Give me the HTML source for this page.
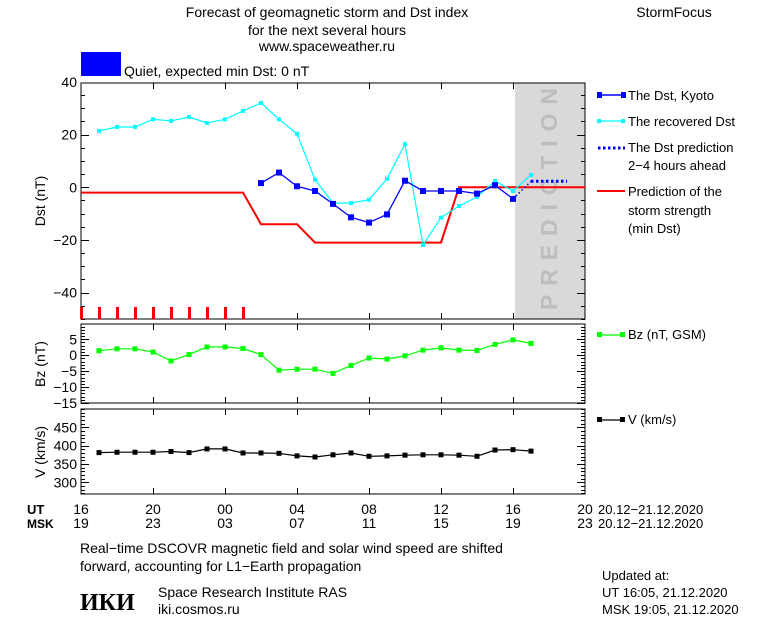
<!DOCTYPE html>
<html><head><meta charset="utf-8"><style>
html,body{margin:0;padding:0;background:#fff;}
svg{display:block;font-family:"Liberation Sans",sans-serif;}
</style></head><body>
<svg id="chart" width="760" height="620" viewBox="0 0 760 620">
<g font-size="14" fill="#000" text-anchor="middle">
<text x="327" y="17">Forecast of geomagnetic storm and Dst index</text>
<text x="327" y="35">for the next several hours</text>
<text x="327" y="51">www.spaceweather.ru</text>
</g>
<text x="674" y="17" font-size="14" text-anchor="middle">StormFocus</text>
<rect x="81" y="52" width="40" height="24" fill="#0000ff"/>
<text x="124" y="76" font-size="14">Quiet, expected min Dst: 0 nT</text>

<rect x="515" y="83" width="70" height="236" fill="#d9d9d9"/>
<text transform="translate(557,199) rotate(-90)" font-size="23" fill="#bdbdbd" text-anchor="middle" textLength="222" lengthAdjust="spacing" font-weight="bold">PREDICTION</text>

<g id="axes" stroke="#000" stroke-width="1" fill="none"></g>
<g id="marks"></g>
<g id="labels" font-size="14" fill="#000"></g>

<g font-size="13" fill="#000">
<g><line x1="599" y1="95" x2="623" y2="95" stroke="#0000ff" stroke-width="1.5"/><rect x="597" y="92" width="5" height="6" fill="#0000ff"/><rect x="621" y="92" width="5" height="6" fill="#0000ff"/><text x="628" y="100">The Dst, Kyoto</text></g>
<g><line x1="599" y1="121" x2="623" y2="121" stroke="#00ffff" stroke-width="1.2"/><rect x="597" y="119" width="4" height="4" fill="#00ffff"/><rect x="621" y="119" width="4" height="4" fill="#00ffff"/><text x="628" y="126">The recovered Dst</text></g>
<g><line x1="598" y1="148" x2="625" y2="148" stroke="#0000ff" stroke-width="3" stroke-dasharray="2.5,2.5"/><text x="628" y="152">The Dst prediction</text><text x="628" y="170">2−4 hours ahead</text></g>
<g><line x1="597" y1="191" x2="625" y2="191" stroke="#ff0000" stroke-width="2"/><text x="628" y="196">Prediction of the</text><text x="628" y="215">storm strength</text><text x="628" y="233">(min Dst)</text></g>
<g><line x1="597" y1="335" x2="625" y2="335" stroke="#00ff00" stroke-width="1.2"/><rect x="597" y="332" width="5" height="5" fill="#00ff00"/><rect x="620" y="332" width="5" height="5" fill="#00ff00"/><text x="628" y="339">Bz (nT, GSM)</text></g>
<g><line x1="597" y1="420" x2="625" y2="420" stroke="#000" stroke-width="1.2"/><rect x="597" y="417" width="5" height="5" fill="#000"/><rect x="620" y="417" width="5" height="5" fill="#000"/><text x="628" y="424">V (km/s)</text></g>
</g>

<g font-size="13" fill="#000">
<text x="598" y="514">20.12−21.12.2020</text>
<text x="598" y="528">20.12−21.12.2020</text>
<text x="27" y="514" font-weight="bold">UT</text>
<text x="27" y="528" font-weight="bold" font-size="12">MSK</text>
<text x="80" y="553" font-size="14">Real−time DSCOVR magnetic field and solar wind speed are shifted</text>
<text x="80" y="571" font-size="14">forward, accounting for L1−Earth propagation</text>
<text x="80" y="610" font-size="24" font-weight="bold" font-family="Liberation Serif,serif">ИКИ</text>
<text x="158" y="597" font-size="14">Space Research Institute RAS</text>
<text x="158" y="614" font-size="14">iki.cosmos.ru</text>
<text x="602" y="580">Updated at:</text>
<text x="602" y="597">UT   16:05, 21.12.2020</text>
<text x="602" y="614">MSK 19:05, 21.12.2020</text>
</g>
</svg>
<script>
// hour offsets from 16:00 UT 20.12
const dstHours = [10,11,12,13,14,15,16,17,18,19,20,21,22,23,24];
const dstValues = [1.6,5.6,0.4,-1.4,-6.3,-11.4,-13.4,-10.3,2.5,-1.4,-1.4,-1.4,-2.4,0.8,-4.4];
const recHours = [1,2,3,4,5,6,7,8,9,10,11,12,13,14,15,16,17,18,19,20,21,22,23,24,25];
const recValues = [21.4,22.9,22.9,25.8,25.2,26.7,24.4,25.8,29.0,32.0,25.8,20.3,2.9,-6.0,-6.0,-4.7,3.2,16.4,-21.9,-11.5,-7.1,-3.7,2.4,-1.4,4.7];
const predHours = [25,27];
const predValues = [2.3,2.3];
const stormHours = [0,1,2,3,4,5,6,7,8,9,10,11,12,13,14,15,16,17,18,19,20,21,22,23,24,25,26,27,28];
const stormValues = [-2,-2,-2,-2,-2,-2,-2,-2,-2,-2,-14,-14,-14,-21,-21,-21,-21,-21,-21,-21,-21,0,0,0,0,0,0,0,0];
const quietTickHours = [0,1,2,3,4,5,6,7,8,9];
const bzHours = recHours;
const bzValues = [1.4,2.0,2.0,1.0,-1.8,0.2,2.6,2.6,2.1,0.2,-4.7,-4.4,-4.4,-5.7,-3.2,-0.9,-1.2,-0.2,1.6,2.3,1.6,1.5,3.4,4.8,3.7];
const vHours = recHours;
const vValues = [381,382,382,382,384,381,391,391,380,380,379,372,369,375,380,371,372,374,375,375,374,371,388,389,385];
const dstTicks = [40,20,0,-20,-40];
const bzTicks = [5,0,-5,-10,-15];
const vTicks = [450,400,350,300];
const utLabels = ["16","20","00","04","08","12","16","20"];
const mskLabels = ["19","23","03","07","11","15","19","23"];

const NS="http://www.w3.org/2000/svg";
const X0=81,X1=585,HRS=28;
const x=h=>X0+h*(X1-X0)/HRS;
const P={dst:{top:83,bot:319,min:-50,max:39.6},bz:{top:324,bot:403,min:-15,max:9.8},v:{top:409,bot:494,min:268,max:500}};
const yf=p=>v=>p.bot-(v-p.min)*(p.bot-p.top)/(p.max-p.min);
const yD=yf(P.dst),yB=yf(P.bz),yV=yf(P.v);
const axes=document.getElementById('axes'),marks=document.getElementById('marks'),labels=document.getElementById('labels');
function mk(tag,attrs,parent){const e=document.createElementNS(NS,tag);for(const k in attrs)e.setAttribute(k,attrs[k]);parent.appendChild(e);return e;}

function panel(p,yfn,minorStep,majorTicks,name){
  const r=mk('rect',{x:X0,y:p.top,width:X1-X0,height:p.bot-p.top},axes);
  
  
  for(let v=Math.ceil(p.min/minorStep)*minorStep;v<=p.max;v+=minorStep){
    const yy=Math.round(yfn(v))+0.5;const major=majorTicks.includes(v);const L=major?8:4;
    mk('line',{x1:X0,y1:yy,x2:X0+L,y2:yy},axes);mk('line',{x1:X1,y1:yy,x2:X1-L,y2:yy},axes);
  }
  for(let h=4;h<HRS;h+=4){const xx=Math.round(x(h))+0.5;
    mk('line',{x1:xx,y1:p.top,x2:xx,y2:p.top+6},axes);mk('line',{x1:xx,y1:p.bot,x2:xx,y2:p.bot-6},axes);}
  majorTicks.forEach(v=>{const t=mk('text',{x:X0-4,y:yfn(v)+5,'text-anchor':'end'},labels);t.textContent=(v<0?'−':'')+Math.abs(v);
    
    });
}
panel(P.dst,yD,5,dstTicks,'dst-panel');
panel(P.bz,yB,1,bzTicks,'bz-panel');
panel(P.v,yV,10,vTicks,'v-panel');

function ylab(txt,cx,cy,name){const t=mk('text',{transform:`translate(${cx},${cy}) rotate(-90)`,'text-anchor':'middle'},labels);t.textContent=txt;
  
  }
ylab('Dst (nT)',45,201,'dst-axis-title');
ylab('Bz (nT)',45,364,'bz-axis-title');
ylab('V (km/s)',45,452,'v-axis-title');

utLabels.forEach((s,i)=>{const t=mk('text',{x:x(i*4),y:514,'text-anchor':'middle'},labels);t.textContent=s;
  
  });
mskLabels.forEach((s,i)=>{const t=mk('text',{x:x(i*4),y:528,'text-anchor':'middle'},labels);t.textContent=s;
  
  });

function series(hs,vs,yfn,color,w,ms,name,dash){
  const g=mk('g',{},marks);
  
  
  const pts=hs.map((h,i)=>x(h).toFixed(1)+','+yfn(vs[i]).toFixed(1)).join(' ');
  const pl=mk('polyline',{points:pts,fill:'none',stroke:color,'stroke-width':w},g);
  if(dash)pl.setAttribute('stroke-dasharray',dash);
  if(ms)hs.forEach((h,i)=>{const r=mk('rect',{x:x(h)-ms/2,y:yfn(vs[i])-ms/2,width:ms,height:ms,fill:color},g);
    
    });
}
series(stormHours,stormValues,yD,'#ff0000',2,0,'storm-strength-line');
quietTickHours.forEach(h=>{const r=mk('rect',{x:x(h)-1,y:307,width:3,height:12,fill:'#ff0000'},marks);
  
  });
series(recHours,recValues,yD,'#00ffff',1.2,4,'recovered-dst-series');
series(dstHours,dstValues,yD,'#0000ff',1.3,6,'dst-kyoto-series');
series([dstHours[dstHours.length-1],predHours[0]],[dstValues[dstValues.length-1],predValues[0]],yD,'#0000ff',1.5,0,'dst-prediction-link','1.5,2.5');
series(predHours,predValues,yD,'#0000ff',3,0,'dst-prediction-line','2.5,2.5');
series(bzHours,bzValues,yB,'#00ff00',1.2,5,'bz-series');
series(vHours,vValues,yV,'#000000',1.2,5,'v-series');
</script>
</body></html>
